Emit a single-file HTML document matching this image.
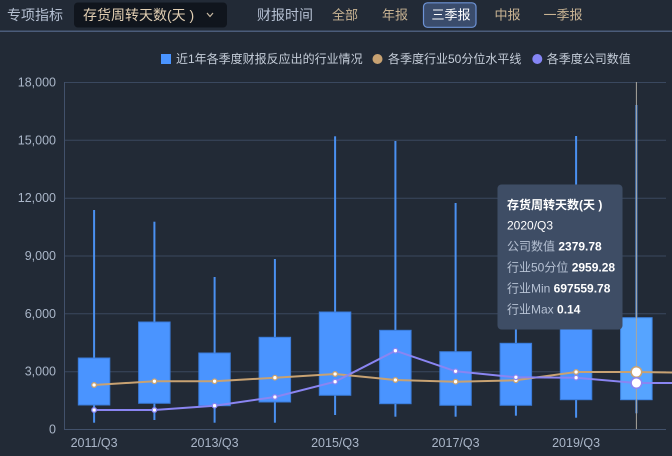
<!DOCTYPE html>
<html><head><meta charset="utf-8">
<style>
html,body{margin:0;padding:0;background:#222a36;}
body{width:672px;height:456px;overflow:hidden;}
svg{display:block;}
text{font-family:"Liberation Sans","Noto Sans CJK SC",sans-serif;}
</style></head>
<body>
<svg width="672" height="456" viewBox="0 0 672 456" xmlns="http://www.w3.org/2000/svg">
<rect x="0" y="0" width="672" height="456" fill="#222a36"/>
<!-- header -->
<text x="7" y="15" font-size="14" fill="#b5c0d2" dominant-baseline="central">专项指标</text>
<rect x="74" y="2.5" width="153" height="25" rx="4" fill="#10151d"/>
<text x="83" y="15" font-size="14" fill="#e2cfb3" dominant-baseline="central">存货周转天数(天 )</text>
<path d="M207 13 L210 16.5 L213 13" stroke="#c9b9a2" stroke-width="1.2" fill="none"/>
<text x="257" y="15" font-size="14" fill="#b5c0d2" dominant-baseline="central">财报时间</text>
<text x="332" y="15" font-size="13" fill="#c8b393" dominant-baseline="central">全部</text>
<text x="382" y="15" font-size="13" fill="#c8b393" dominant-baseline="central">年报</text>
<rect x="423.5" y="2.8" width="52.5" height="24.5" rx="4" fill="#3a4c6c" stroke="#6d93d6" stroke-width="1.2"/>
<text x="431.5" y="15" font-size="13" fill="#ffffff" dominant-baseline="central">三季报</text>
<text x="494.5" y="15" font-size="13" fill="#c8b393" dominant-baseline="central">中报</text>
<text x="543.5" y="15" font-size="13" fill="#c8b393" dominant-baseline="central">一季报</text>
<rect x="0" y="30.5" width="672" height="1.5" fill="#4b5c7a"/>

<!-- legend -->
<rect x="161" y="54" width="10" height="10" fill="#4a94ff"/>
<text x="176" y="59" font-size="12" fill="#c5cdd9" dominant-baseline="central">近1年各季度财报反应出的行业情况</text>
<circle cx="377.5" cy="59" r="5" fill="#c8a272"/>
<text x="388" y="59" font-size="12" fill="#c5cdd9" dominant-baseline="central">各季度行业50分位水平线</text>
<circle cx="537.3" cy="59" r="5" fill="#8585f5"/>
<text x="546.7" y="59" font-size="12" fill="#c5cdd9" dominant-baseline="central">各季度公司数值</text>

<!-- grid -->
<g stroke="#3a485f" stroke-width="1">
<line x1="64" y1="82.5" x2="666" y2="82.5"/>
<line x1="64" y1="140.3" x2="666" y2="140.3"/>
<line x1="64" y1="198.2" x2="666" y2="198.2"/>
<line x1="64" y1="256" x2="666" y2="256"/>
<line x1="64" y1="313.8" x2="666" y2="313.8"/>
<line x1="64" y1="371.7" x2="666" y2="371.7"/>
</g>
<line x1="64.5" y1="82" x2="64.5" y2="429.5" stroke="#42516b" stroke-width="1"/>
<line x1="64" y1="429.5" x2="666" y2="429.5" stroke="#42516b" stroke-width="1"/>

<!-- y labels -->
<g font-size="12.5" fill="#aab6c8" text-anchor="end" dominant-baseline="central">
<text x="56" y="82.5">18,000</text>
<text x="56" y="140.3">15,000</text>
<text x="56" y="198.2">12,000</text>
<text x="56" y="256">9,000</text>
<text x="56" y="313.8">6,000</text>
<text x="56" y="371.7">3,000</text>
<text x="56" y="429.5">0</text>
</g>
<!-- x labels -->
<g font-size="12.5" fill="#aab6c8" text-anchor="middle" dominant-baseline="central">
<text x="94.1" y="443">2011/Q3</text>
<text x="214.6" y="443">2013/Q3</text>
<text x="335.1" y="443">2015/Q3</text>
<text x="455.6" y="443">2017/Q3</text>
<text x="576.1" y="443">2019/Q3</text>
</g>

<!-- whiskers -->
<g fill="#4a90f0">
<rect x="93.1" y="210" width="2" height="212.7"/>
<rect x="153.4" y="221.7" width="2" height="198.3"/>
<rect x="213.6" y="277" width="2" height="145.7"/>
<rect x="273.9" y="259" width="2" height="163.7"/>
<rect x="334.1" y="136.3" width="2" height="278.7"/>
<rect x="394.4" y="141" width="2" height="275.7"/>
<rect x="454.6" y="203" width="2" height="213.7"/>
<rect x="514.9" y="230" width="2" height="185.7"/>
<rect x="575.1" y="136" width="2" height="281.7"/>
<rect x="635.4" y="105" width="2" height="308.3"/>
</g>
<!-- boxes -->
<g fill="#4a94ff" stroke="#3a7ad8" stroke-width="1">
<rect x="78.3" y="358" width="31.5" height="47"/>
<rect x="138.6" y="322" width="31.5" height="81.3"/>
<rect x="198.8" y="353" width="31.5" height="52.7"/>
<rect x="259.1" y="337.3" width="31.5" height="64.7"/>
<rect x="319.3" y="312" width="31.5" height="83.3"/>
<rect x="379.6" y="330.3" width="31.5" height="73.4"/>
<rect x="439.8" y="351.7" width="31.5" height="53.6"/>
<rect x="500.1" y="343.3" width="31.5" height="62"/>
<rect x="560.3" y="318" width="31.5" height="81.7"/>
</g>
<rect x="620.6" y="317.7" width="31.5" height="82" fill="#56a4ff" stroke="#3f86e6" stroke-width="1"/>

<!-- pointer line -->
<line x1="636.4" y1="82" x2="636.4" y2="429" stroke="#aaa69d" stroke-width="1"/>

<!-- median line -->
<polyline fill="none" stroke="#c8a272" stroke-width="2" points="94.1,385 154.4,381.3 214.6,381.3 274.9,377.7 335.1,374 395.4,380 455.6,381.7 515.9,380.3 576.1,372 636.4,372 672,372.5"/>
<!-- company line -->
<polyline fill="none" stroke="#8a85f2" stroke-width="2" points="94.1,410 154.4,410 214.6,405.7 274.9,397 335.1,381.7 395.4,350.7 455.6,371.3 515.9,377.3 576.1,377.7 636.4,383 672,383"/>

<g fill="#ffffff" stroke="#c8a272" stroke-width="1.3">
<circle cx="94.1" cy="385" r="2.3"/>
<circle cx="154.4" cy="381.3" r="2.3"/>
<circle cx="214.6" cy="381.3" r="2.3"/>
<circle cx="274.9" cy="377.7" r="2.3"/>
<circle cx="335.1" cy="374" r="2.3"/>
<circle cx="395.4" cy="380" r="2.3"/>
<circle cx="455.6" cy="381.7" r="2.3"/>
<circle cx="515.9" cy="380.3" r="2.3"/>
<circle cx="576.1" cy="372" r="2.3"/>
</g>
<g fill="#ffffff" stroke="#8a85f2" stroke-width="1.3">
<circle cx="94.1" cy="410" r="2.3"/>
<circle cx="154.4" cy="410" r="2.3"/>
<circle cx="214.6" cy="405.7" r="2.3"/>
<circle cx="274.9" cy="397" r="2.3"/>
<circle cx="335.1" cy="381.7" r="2.3"/>
<circle cx="395.4" cy="350.7" r="2.3"/>
<circle cx="455.6" cy="371.3" r="2.3"/>
<circle cx="515.9" cy="377.3" r="2.3"/>
<circle cx="576.1" cy="377.7" r="2.3"/>
</g>
<circle cx="636.4" cy="372" r="5.3" fill="#ffffff" stroke="#c8a272" stroke-width="1.5"/>
<circle cx="636.4" cy="383" r="5.3" fill="#ffffff" stroke="#8a85f2" stroke-width="1.5"/>

<!-- tooltip -->
<rect x="497.5" y="184.5" width="125" height="145" rx="4" fill="#3e4d65"/>
<g font-size="12" dominant-baseline="central">
<text x="507" y="205" fill="#ffffff" font-weight="bold">存货周转天数(天 )</text>
<text x="507" y="225.7" fill="#ffffff">2020/Q3</text>
<text x="507" y="246.7"><tspan fill="#b7c2d4">公司数值 </tspan><tspan fill="#ffffff" font-weight="bold">2379.78</tspan></text>
<text x="507" y="267.7"><tspan fill="#b7c2d4">行业50分位 </tspan><tspan fill="#ffffff" font-weight="bold">2959.28</tspan></text>
<text x="507" y="288.3"><tspan fill="#b7c2d4">行业Min </tspan><tspan fill="#ffffff" font-weight="bold">697559.78</tspan></text>
<text x="507" y="309.3"><tspan fill="#b7c2d4">行业Max </tspan><tspan fill="#ffffff" font-weight="bold">0.14</tspan></text>
</g>
</svg>
</body></html>
